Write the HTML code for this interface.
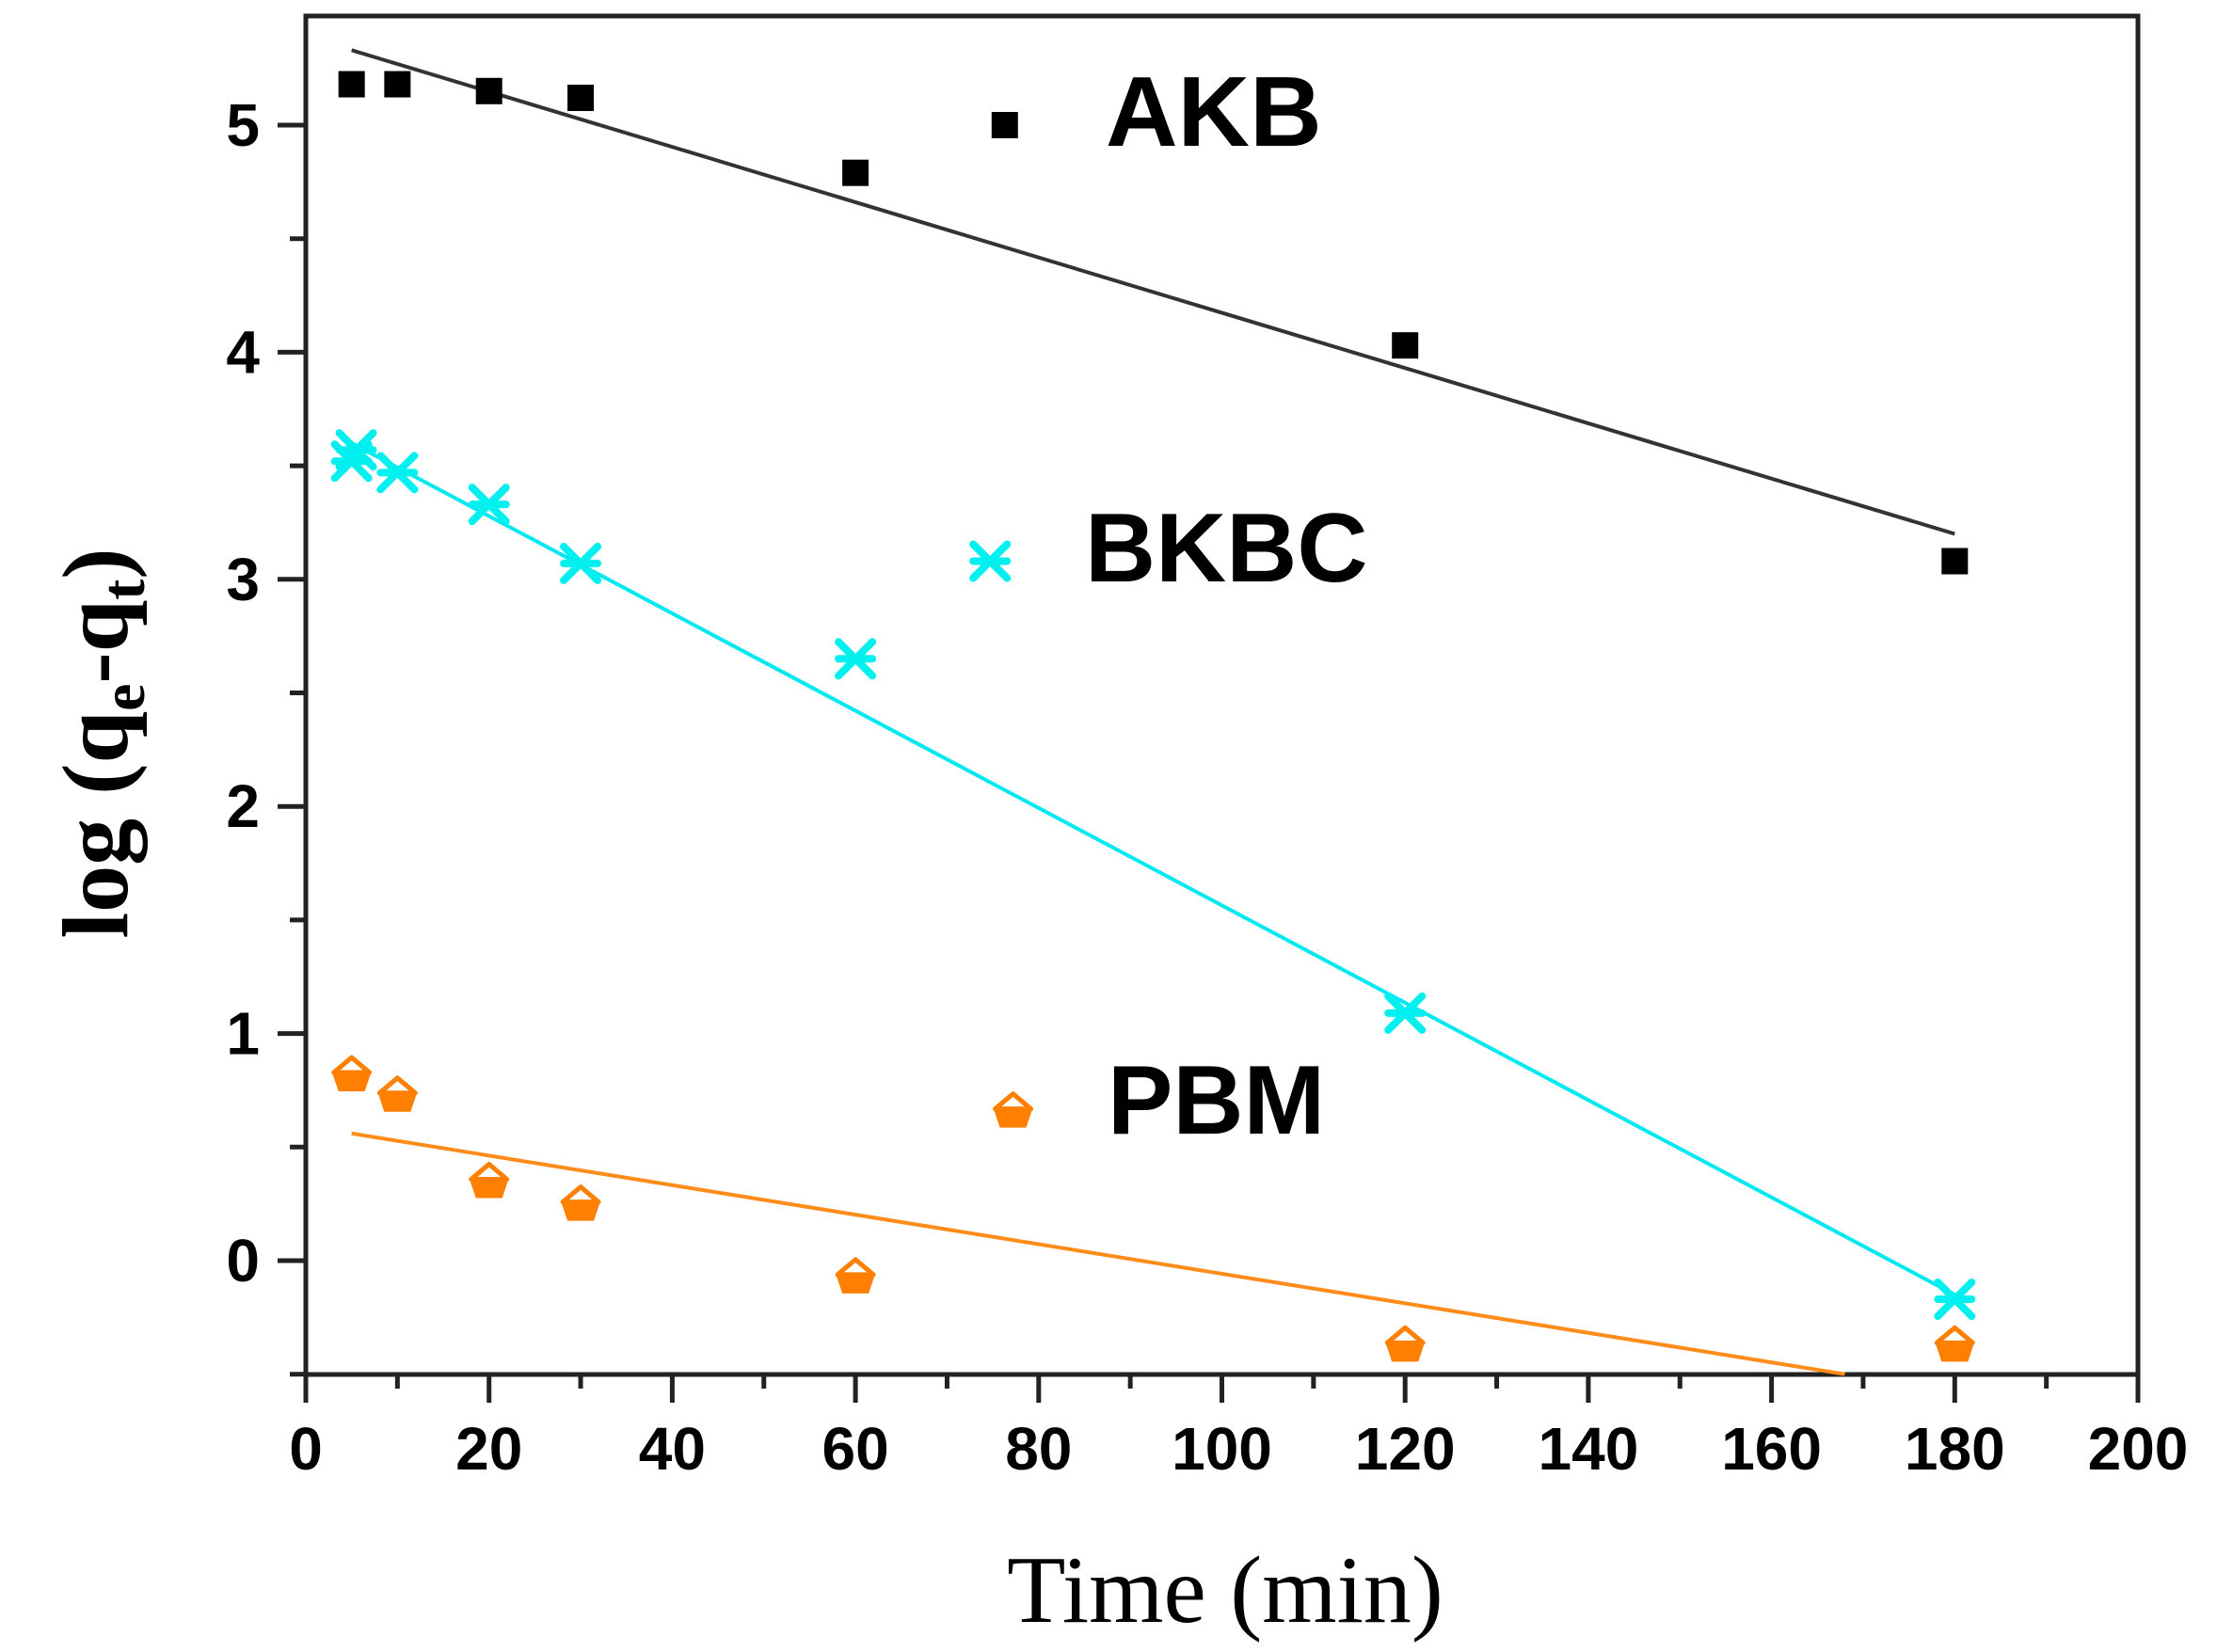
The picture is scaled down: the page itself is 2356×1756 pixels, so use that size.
<!DOCTYPE html>
<html>
<head>
<meta charset="utf-8">
<style>
html,body{margin:0;padding:0;background:#fff;}
svg{display:block;}
</style>
</head>
<body>
<svg id="chart" width="2356" height="1756" viewBox="0 0 2356 1756" xmlns="http://www.w3.org/2000/svg">
  <g id="frame"></g>
  <g id="ticks"></g>
  <g id="fits"></g>
  <g id="marks"></g>
  <text x="1175" y="155" font-family="Liberation Sans, sans-serif" font-weight="bold" font-size="106">AKB</text>
  <text x="1153" y="618" font-family="Liberation Sans, sans-serif" font-weight="bold" font-size="104">BKBC</text>
  <text x="1177" y="1205" font-family="Liberation Sans, sans-serif" font-weight="bold" font-size="104">PBM</text>
  <text x="1302" y="1724" text-anchor="middle" font-family="Liberation Serif, serif" font-size="102">Time (min)</text>
  <text transform="translate(135,790) rotate(-90)" text-anchor="middle" font-family="Liberation Serif, serif" font-weight="bold" font-size="100">log (q<tspan font-size="66" dy="18">e</tspan><tspan dy="-18">-q</tspan><tspan font-size="66" dy="18">t</tspan><tspan dy="-18">)</tspan></text>
</svg>
<script>
const xTicks = [0,20,40,60,80,100,120,140,160,180,200];
const yTicks = [0,1,2,3,4,5];
const akbT = [5,10,20,30,60,120,180];
const akbY = [5.18,5.18,5.15,5.12,4.79,4.03,3.08];
const bkbcT = [5,5.5,10,20,30,60,120,180];
const bkbcY = [3.52,3.57,3.47,3.33,3.07,2.65,1.09,-0.17];
const pbmT = [5,10,20,30,60,120,180];
const pbmY = [0.82,0.73,0.35,0.25,-0.07,-0.37,-0.37];
const akbFitT = [5,180];
const akbFitY = [5.33,3.2];
const bkbcFitT = [5,180];
const bkbcFitY = [3.6,-0.15];
const pbmFitT = [5,168];
const pbmFitY = [0.56,-0.5];
const legendAkb = [76.3,5.0];
const legendBkbc = [74.7,3.08];
const legendPbm = [77.2,0.66];

const NS='http://www.w3.org/2000/svg';
const X0=325, X1=2272, Y0val=1340, PXY=241.4, YB=1461, YT=17;
function sx(v){return X0+(v/200)*(X1-X0);}
function sy(v){return Y0val-v*PXY;}
function mk(tag,attrs,parent){const e=document.createElementNS(NS,tag);for(const k in attrs)e.setAttribute(k,attrs[k]);parent.appendChild(e);return e;}

const frame=document.getElementById('frame');
const fr=mk('rect',{x:X0,y:YT,width:X1-X0,height:YB-YT,fill:'none',stroke:'#222','stroke-width':5},frame);



const ticks=document.getElementById('ticks');
for(let v=0;v<=200;v+=10){
  const major=v%20===0;
  const t=mk('line',{x1:sx(v),x2:sx(v),y1:YB,y2:YB+(major?30:15),stroke:'#222','stroke-width':5},ticks);
  
  
}
xTicks.forEach(v=>{
  const t=mk('text',{x:sx(v),y:1562,'text-anchor':'middle','font-family':'Liberation Sans, sans-serif','font-weight':'bold','font-size':64},ticks);
  t.textContent=v;
  
  
});
for(let v=-0.5;v<=5.0001;v+=0.5){
  const major=Math.abs(v-Math.round(v))<0.01;
  const t=mk('line',{x1:X0,x2:X0-(major?30:17),y1:sy(v),y2:sy(v),stroke:'#222','stroke-width':5},ticks);
  
  
}
yTicks.forEach(v=>{
  const t=mk('text',{x:276,y:sy(v)+22,'text-anchor':'end','font-family':'Liberation Sans, sans-serif','font-weight':'bold','font-size':64},ticks);
  t.textContent=v;
  
  
});

const fits=document.getElementById('fits');
function fit(ts,ys,color,name){
  const l=mk('line',{x1:sx(ts[0]),y1:sy(ys[0]),x2:sx(ts[1]),y2:sy(ys[1]),stroke:color,'stroke-width':4},fits);
  
  
}
fit(akbFitT,akbFitY,'#333','akb-fit-line');
fit(bkbcFitT,bkbcFitY,'#00e8f0','bkbc-fit-line');
fit(pbmFitT,pbmFitY,'#ff8c1a','pbm-fit-line');

const marks=document.getElementById('marks');
function square(t,y,name){
  const r=mk('rect',{x:sx(t)-14,y:sy(y)-14,width:28,height:28,fill:'#000'},marks);
  
  
}
function star(t,y,name){
  const cx=sx(t),cy=sy(y),s=18;
  const g=mk('g',{stroke:'#00f0f0','stroke-width':8,'stroke-linecap':'round'},marks);
  
  
  mk('line',{x1:cx-s,y1:cy-s,x2:cx+s,y2:cy+s},g);
  mk('line',{x1:cx-s,y1:cy+s,x2:cx+s,y2:cy-s},g);
  mk('line',{x1:cx-s,y1:cy,x2:cx+s,y2:cy},g);
}
function cup(t,y,name){
  const cx=sx(t),cy=sy(y);
  const g=mk('g',{},marks);
  
  
  mk('path',{d:`M${cx-19},${cy-2} L${cx},${cy-18} L${cx+19},${cy-2} Z`,fill:'#fff',stroke:'#ff8000','stroke-width':5,'stroke-linejoin':'round'},g);
  mk('path',{d:`M${cx-20},${cy} L${cx+20},${cy} L${cx+14},${cy+18} L${cx-14},${cy+18} Z`,fill:'#ff8000'},g);
}
akbT.forEach((t,i)=>square(t,akbY[i],'akb-point'));
bkbcT.forEach((t,i)=>star(t,bkbcY[i],'bkbc-point'));
pbmT.forEach((t,i)=>cup(t,pbmY[i],'pbm-point'));
square(legendAkb[0],legendAkb[1],'legend-marker-akb');
star(legendBkbc[0],legendBkbc[1],'legend-marker-bkbc');
cup(legendPbm[0],legendPbm[1],'legend-marker-pbm');
</script>
</body>
</html>
